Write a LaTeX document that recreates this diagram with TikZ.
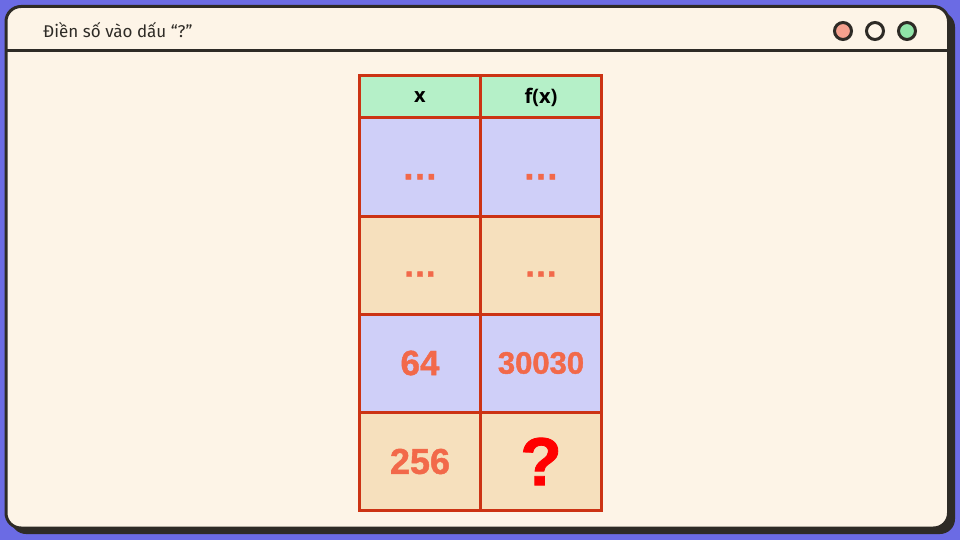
\documentclass[tikz,border=0pt]{standalone}
\usepackage{fontspec}
\setmainfont{Liberation Sans}[BoldFont={Liberation Sans Bold}]
\newfontfamily\titlefont{Fira Sans}
\newfontfamily\headfont{Open Sans}[BoldFont={Open Sans Bold}]
\newfontfamily\numfont{Liberation Sans Bold}[FakeBold=1.2]
\usetikzlibrary{positioning}

\definecolor{bgblue}{HTML}{6B6BE4}
\definecolor{paper}{HTML}{FDF4E7}
\definecolor{ink}{HTML}{2E2B26}
\definecolor{gridred}{HTML}{CC3314}
\definecolor{headgreen}{HTML}{B5F0C8}
\definecolor{lilac}{HTML}{CFCFF8}
\definecolor{peach}{HTML}{F6E0BD}
\definecolor{numorange}{HTML}{F2694A}
\definecolor{qred}{HTML}{FF0000}
\definecolor{lamppink}{HTML}{F4A08E}
\definecolor{lampgreen}{HTML}{90E4A8}

\tikzset{
 cellbox/.style={draw=gridred, line width=3pt, minimum width=121pt, minimum height=98pt, inner sep=0pt},
 headbox/.style={cellbox, minimum height=42pt, fill=headgreen, font=\headfont\bfseries\fontsize{20}{24}\selectfont},
 numtext/.style={text=numorange, font=\numfont\fontsize{#1}{40}\selectfont},
 lamp/.style={circle, draw=ink, line width=3pt, minimum size=17pt, inner sep=0pt},
}

\begin{document}
\begin{tikzpicture}[x=1pt,y=-1pt]
\useasboundingbox (0,0) rectangle (960,540);
%Background
\fill[bgblue] (0,0) rectangle (960,540);
%Window with its shadow
\fill[ink, rounded corners=15pt] (11,12) rectangle (955,534);
\draw[ink, fill=paper, line width=3pt, rounded corners=15pt] (6,6.5) rectangle (948.5,528);
%Title bar
\coordinate (barL) at (6,51);
\coordinate (barR) at (948.5,51);
\draw[ink, line width=3pt] (barL) -- (barR);
\node [anchor=west, inner xsep=0pt, text=ink, font=\titlefont\fontsize{17}{20}\selectfont] (title) at (43,30) {Điền số vào dấu “?”};
%Lamps at the top right
\node [lamp, fill=lamppink] (lamp1) at (843,31) {};
\node [lamp, fill=paper] (lamp2) at (875,31) {};
\node [lamp, fill=lampgreen] (lamp3) at (907,31) {};
%Table head
\coordinate (center00) at (420,97);
\coordinate (center01) at (541,97);
\node [headbox] (cell00) at (center00) {x};
\node [headbox] (cell01) at (center01) {f(x)};
%Rows 1 and 2
\coordinate (center10) at (420,167);
\coordinate (center11) at (541,167);
\coordinate (center20) at (420,265);
\coordinate (center21) at (541,265);
\node [cellbox, fill=lilac, numtext=36] (cell10) at (center10) {\vphantom{0}…};
\node [cellbox, fill=lilac, numtext=36] (cell11) at (center11) {\vphantom{0}…};
\node [cellbox, fill=peach, numtext=34] (cell20) at (center20) {\vphantom{0}…};
\node [cellbox, fill=peach, numtext=34] (cell21) at (center21) {\vphantom{0}…};
%Rows 3 and 4
\coordinate (center30) at (420,363);
\coordinate (center31) at (541,363);
\coordinate (center40) at (420,461.5);
\coordinate (center41) at (541,461.5);
\node [cellbox, fill=lilac, numtext=35] (cell30) at (center30) {64};
\node [cellbox, fill=lilac, numtext=31] (cell31) at (center31) {30030};
\node [cellbox, fill=peach, numtext=36] (cell40) at (center40) {256};
\node [cellbox, fill=peach, text=qred, font=\numfont\fontsize{68}{70}\selectfont] (cell41) at (center41) {?};
\end{tikzpicture}
\end{document}
